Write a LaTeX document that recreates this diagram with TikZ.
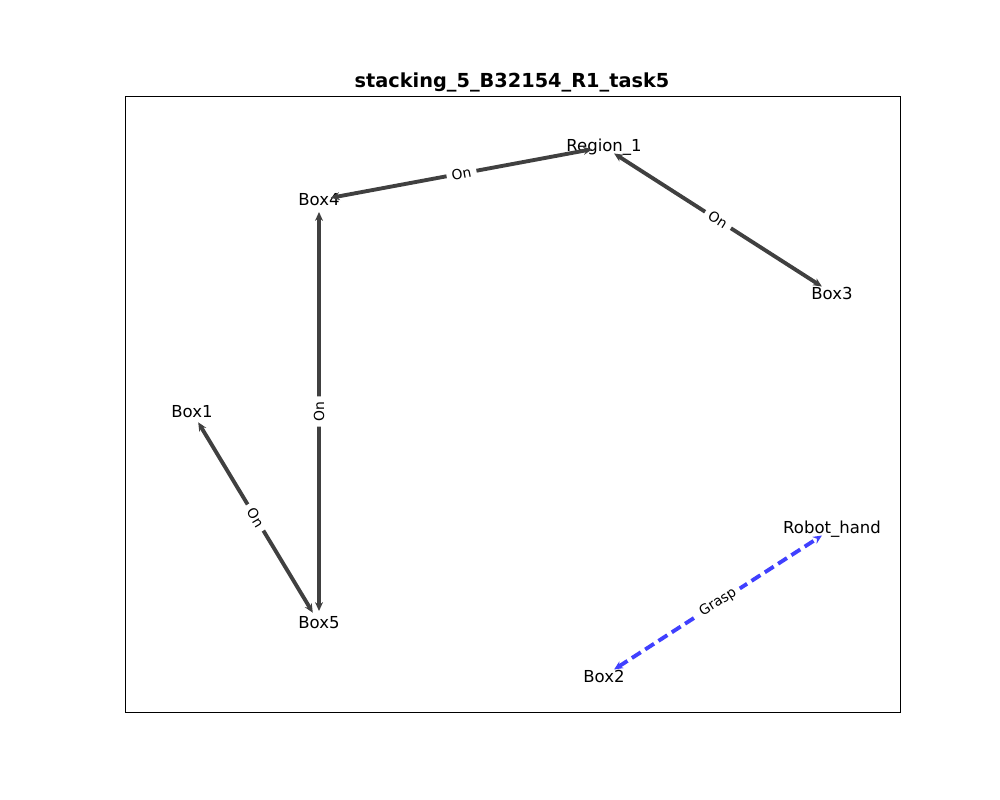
\documentclass[tikz,border=0pt]{standalone}
\usepackage{fontspec}
\setmainfont{DejaVu Sans}
\usetikzlibrary{arrows.meta}
\definecolor{edgegray}{HTML}{404040}
\definecolor{graspblue}{HTML}{4040FF}

\begin{document}
\begin{tikzpicture}[x=0.02cm,y=-0.02cm,
obj/.style={inner sep=0pt,font=\fontsize{9.4}{11}\selectfont},
onedge/.style={edgegray,line width=2.2pt,{Stealth[length=5pt,width=4.5pt]}-{Stealth[length=5pt,width=4.5pt]},
shorten <=0.24cm,shorten >=0.24cm},
graspedge/.style={graspblue,line width=2.2pt,dash pattern=on 6pt off 3pt,
{Stealth[length=5pt,width=4.5pt]}-{Stealth[length=5pt,width=4.5pt]},shorten <=0.24cm,shorten >=0.24cm},
elabel/.style={fill=white,inner sep=3pt,rounded corners=2pt,sloped,text=black,
font=\fontsize{7.9}{9}\selectfont}]
\useasboundingbox (0,0) rectangle (1000,800);
\draw[line width=0.5pt] (125,96) rectangle (900,712);
\node[font=\fontsize{11}{13}\selectfont\bfseries] (title) at (512,82) {stacking\_5\_B32154\_R1\_task5};

\node[obj] (box4) at (319,200) {Box4};
\node[obj] (region1) at (604,147) {Region\_1};
\node[obj] (box3) at (832,293) {Box3};
\node[obj] (box1) at (192,412) {Box1};
\node[obj] (box5) at (319,623) {Box5};
\node[obj] (hand) at (832,529) {Robot\_hand};
\node[obj] (box2) at (604,676) {Box2};

\draw[onedge] (box4.center) -- node[elabel] {On} (region1.center);
\draw[onedge] (region1.center) -- node[elabel] {On} (box3.center);
\draw[onedge] (box5.center) -- node[elabel] {On} (box4.center);
\draw[onedge] (box1.center) -- node[elabel] {On} (box5.center);
\draw[graspedge] (box2.center) -- node[elabel] {Grasp} (hand.center);
\end{tikzpicture}
\end{document}
